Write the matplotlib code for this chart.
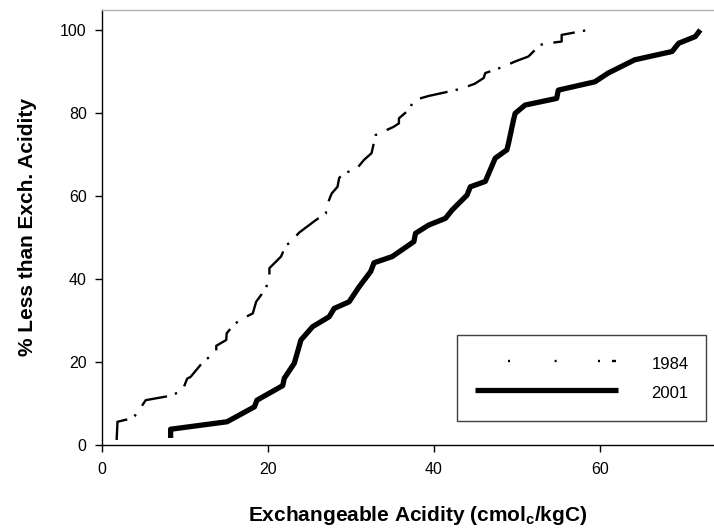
import matplotlib
matplotlib.use("Agg")
import matplotlib.pyplot as plt
from matplotlib.lines import Line2D

plt.rcParams['font.family'] = ['Liberation Sans', 'DejaVu Sans']
plt.rcParams['mathtext.fontset'] = 'custom'
plt.rcParams['mathtext.rm'] = 'Liberation Sans'
plt.rcParams['mathtext.bf'] = 'Liberation Sans:bold'

x1984 = [1.8, 1.9, 3.8, 4.6, 5.3, 8.1, 9.7, 10.3, 10.7, 12.2, 13.8, 13.8, 15.0, 15.05, 16.0,
         17.4, 18.2, 18.6, 19.8, 20.2, 20.2, 21.6, 22.2, 22.6, 23.8, 25.8, 27.0, 27.1, 27.7,
         28.4, 28.6, 29.1, 30.6, 31.6, 32.5, 33.0, 33.7, 35.2, 35.8, 35.8, 37.2, 37.4, 38.0,
         39.4, 42.6, 43.5, 44.9, 46.0, 46.2, 48.2, 49.8, 51.4, 52.8, 53.8, 55.4, 55.4, 58.6]
y1984 = [1.2, 5.6, 6.5, 8.7, 10.8, 11.8, 13.0, 16.0, 16.4, 20.0, 22.5, 23.9, 25.3, 26.9, 29.2,
         30.9, 31.7, 34.5, 37.8, 41.0, 42.6, 45.4, 48.2, 48.6, 51.2, 54.2, 55.8, 57.6, 60.6,
         62.2, 64.3, 65.5, 66.3, 68.7, 70.3, 74.7, 75.3, 76.7, 77.5, 78.7, 81.1, 82.7, 83.3,
         84.1, 85.5, 86.0, 87.0, 88.4, 89.6, 91.0, 92.4, 93.6, 96.4, 96.8, 97.2, 98.8, 100.0]

x2001 = [8.3, 8.3, 15.1, 18.4, 18.7, 21.8, 22.0, 23.2, 24.0, 25.4, 27.4, 28.0, 29.8, 31.0,
         32.4, 32.8, 35.0, 37.6, 37.8, 39.4, 41.4, 42.2, 44.0, 44.4, 46.2, 47.4, 48.8, 49.0,
         49.6, 49.8, 51.0, 54.8, 55.0, 59.4, 61.0, 64.2, 68.7, 69.5, 71.5, 72.1]
y2001 = [1.7, 3.8, 5.6, 9.2, 10.8, 14.3, 16.1, 19.7, 25.3, 28.5, 30.9, 32.9, 34.5, 38.1,
         41.8, 43.9, 45.4, 49.0, 51.0, 53.0, 54.6, 56.6, 60.2, 62.2, 63.5, 69.1, 71.1, 72.7,
         78.3, 79.9, 81.9, 83.5, 85.5, 87.5, 89.6, 92.8, 94.8, 96.8, 98.4, 100.0]

series_labels = ['1984', '2001']
xticks = [0, 20, 40, 60]
yticks = [0, 20, 40, 60, 80, 100]

fig = plt.figure(figsize=(7.14, 5.28), dpi=100)
ax = fig.add_axes([101.7/714, 1-445/528, (714-101.7)/714, 435/528])

lw84 = 1.7
ax.plot(x1984, y1984, color='black', lw=lw84, linestyle=(0, (12, 3.5, 1, 4.5)),
        solid_capstyle='butt', dash_capstyle='butt')
line01, = ax.plot(x2001, y2001, color='black', lw=3.8, solid_joinstyle='round',
                  solid_capstyle='butt')

ax.set_xlim(0, 73.75)
ax.set_ylim(0, 104.8)
ax.set_xticks(xticks)
ax.set_yticks(yticks)
ax.tick_params(direction='out', length=4.8, width=1, labelsize=11.5, colors='black')
ax.tick_params(axis='y', pad=6)
ax.tick_params(axis='x', pad=7.5)

for s in ['left', 'bottom']:
    ax.spines[s].set_color('black')
    ax.spines[s].set_linewidth(1.0)
ax.spines['top'].set_color('#b0b0b0')
ax.spines['top'].set_linewidth(1.0)
ax.spines['right'].set_visible(False)

ax.set_xlabel(r'Exchangeable Acidity (cmol$_{\mathbf{c}}$/kgC)', fontsize=15,
              fontweight='bold')
ax.xaxis.set_label_coords(0.5166, (445 - 521) / 435)
ax.xaxis.label.set_verticalalignment('baseline')
ax.set_ylabel('% Less than Exch. Acidity', fontsize=15, fontweight='bold')
ax.yaxis.set_label_coords((33.3 - 101.7) / 612.3, 0.5)
ax.yaxis.label.set_verticalalignment('baseline')

# legend key for 1984 as it appears in the original (sparse dots)
f = 0.72 / lw84
proxy84 = Line2D([], [], color='black', lw=lw84, dash_capstyle='butt',
                 linestyle=(110.3 * f, [2 * f, 44.6 * f, 2 * f, 41.4 * f, 2 * f, 12 * f, 4 * f, 35.3 * f]))
leg = ax.legend(handles=[proxy84, line01], labels=series_labels,
                loc='upper left', bbox_to_anchor=((457.3 - 101.7) / 612.3, (445 - 335) / 435),
                fontsize=12, handlelength=8.6, handletextpad=2.0, handleheight=1.6,
                labelspacing=0.5, borderpad=1.05, fancybox=False, framealpha=1,
                edgecolor='#404040', borderaxespad=0)
leg.get_frame().set_linewidth(1.0)

fig.savefig('out.png', dpi=100)
